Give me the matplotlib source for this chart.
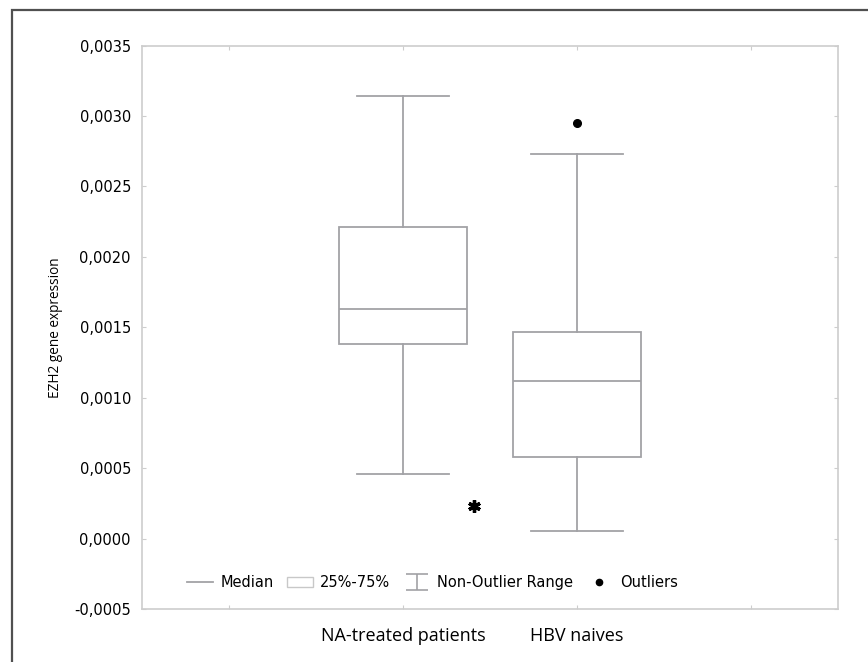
import matplotlib
matplotlib.use('Agg')
import matplotlib.pyplot as plt
from matplotlib.lines import Line2D
from matplotlib.patches import Patch, Rectangle
from matplotlib.path import Path
from matplotlib.ticker import FuncFormatter, MultipleLocator

# dados
grupos = ['NA-treated patients', 'HBV naives']
posicoes = [1, 2]
q1 = [0.00138, 0.00058]
mediana = [0.00163, 0.00112]
q3 = [0.00221, 0.00147]
whis_min = [0.00046, 0.000057]
whis_max = [0.00314, 0.00273]
outliers = [[], [0.00295]]
extremos = [[0.00023], []]
extremos_x = [1.41]

cor_box = '#a2a2a6'
cor_eixo = '#cdcdcd'

fig = plt.figure(figsize=(8.68, 6.62), dpi=100)
ax = fig.add_axes([0.1636, 0.0801, 0.8018, 0.851])

stats = []
for i in range(len(grupos)):
    stats.append({'label': grupos[i], 'q1': q1[i], 'med': mediana[i], 'q3': q3[i],
                  'whislo': whis_min[i], 'whishi': whis_max[i], 'fliers': []})

ax.bxp(stats, positions=posicoes, widths=0.74, showfliers=False, patch_artist=True,
       boxprops=dict(facecolor='white', edgecolor=cor_box, linewidth=1.3),
       medianprops=dict(color=cor_box, linewidth=1.3),
       whiskerprops=dict(color=cor_box, linewidth=1.3),
       capprops=dict(color=cor_box, linewidth=1.3), capwidths=0.53)

# outliers
for p, o in zip(posicoes, outliers):
    if o:
        ax.plot([p] * len(o), o, 'o', color='black', markersize=5.5, zorder=5)
# extremos (asterisco)
for e in extremos:
    if e:
        ax.plot(extremos_x, e, marker=(6, 2, 0), linestyle='none', color='black',
                markersize=9, markeredgewidth=2.4, zorder=5)

ax.set_xlim(-0.5, 3.5)
ax.set_ylim(-0.0005, 0.0035)
ax.yaxis.set_major_locator(MultipleLocator(0.0005))
ax.yaxis.set_major_formatter(FuncFormatter(lambda v, p: f'{v:.4f}'.replace('.', ',')))
ax.set_xticks([0, 1, 2, 3])
ax.set_xticklabels(['', grupos[0], grupos[1], ''], family='Open Sans', fontsize=13)

for lab in ax.get_yticklabels():
    lab.set_family('DejaVu Sans')
    lab.set_fontsize(10.5)

ax.tick_params(axis='both', direction='in', length=3, color=cor_eixo,
               top=True, right=True)
ax.tick_params(axis='y', pad=8)
ax.tick_params(axis='x', pad=13)
for s in ax.spines.values():
    s.set_color(cor_eixo)
    s.set_linewidth(1.2)

ax.set_ylabel('EZH2 gene expression', family='Open Sans', fontsize=9.8, labelpad=8)

# legenda
caminho_whisker = Path([(-1, 0.75), (1, 0.75), (0, 0.75), (0, -0.75), (-1, -0.75), (1, -0.75)],
                       [Path.MOVETO, Path.LINETO, Path.MOVETO, Path.LINETO,
                        Path.MOVETO, Path.LINETO])
handles = [
    Line2D([], [], color=cor_box, linewidth=1.3),
    Patch(facecolor='white', edgecolor='#c8c8c8', linewidth=1),
    Line2D([], [], color=cor_box, marker=caminho_whisker, linestyle='none',
           markersize=16, markeredgewidth=1.2),
    Line2D([], [], color='black', marker='o', linestyle='none', markersize=4.5),
]
rotulos = ['Median', '25%-75%', 'Non-Outlier Range', 'Outliers']
leg = ax.legend(handles, rotulos, loc='center', bbox_to_anchor=(0.417, 0.047), ncol=4,
                frameon=False, handlelength=1.8, handletextpad=0.5, columnspacing=0.9,
                prop={'family': 'DejaVu Sans', 'size': 10.5})

# moldura externa
fig.patches.append(Rectangle((0.0138, -0.1), 2, 1.085, fill=False, edgecolor='#505050',
                             linewidth=1.6, transform=fig.transFigure, figure=fig))

plt.savefig('out.png', dpi=100)
